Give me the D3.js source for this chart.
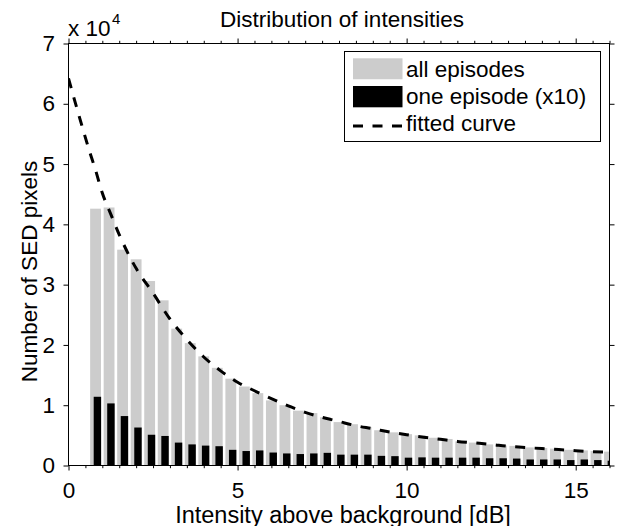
<!DOCTYPE html>
<html>
<head>
<meta charset="utf-8">
<script src="https://cdn.jsdelivr.net/npm/d3@7"></script>
<style>
body { margin: 0; background: #fff; }
svg { display: block; font-family: "Liberation Sans", Arial, sans-serif; }
</style>
</head>
<body>
<svg id="chart" width="628" height="526"></svg>
<script>
// bin centres [dB]
var binCenters = [0.8, 1.2, 1.6, 2.0, 2.4, 2.8, 3.2, 3.6, 4.0, 4.4,
                  4.8, 5.2, 5.6, 6.0, 6.4, 6.8, 7.2, 7.6, 8.0, 8.4,
                  8.8, 9.2, 9.6, 10.0, 10.4, 10.8, 11.2, 11.6, 12.0, 12.4,
                  12.8, 13.2, 13.6, 14.0, 14.4, 14.8, 15.2, 15.6, 16.0];
// counts in units of 1e4
var allEpisodes = [4.26, 4.28, 3.58, 3.42, 3.06, 2.74, 2.27, 2.03, 1.81, 1.62,
                   1.44, 1.31, 1.20, 1.08, 1.00, 0.91, 0.87, 0.80, 0.72, 0.685,
                   0.64, 0.585, 0.55, 0.52, 0.50, 0.46, 0.44, 0.40, 0.38, 0.35,
                   0.33, 0.325, 0.30, 0.29, 0.28, 0.26, 0.25, 0.24, 0.23];
// one episode, already multiplied by 10
var oneEpisode = [1.14, 1.03, 0.82, 0.63, 0.51, 0.49, 0.38, 0.35, 0.33, 0.32,
                  0.26, 0.24, 0.25, 0.215, 0.20, 0.19, 0.20, 0.21, 0.18, 0.18,
                  0.18, 0.16, 0.155, 0.13, 0.135, 0.13, 0.13, 0.13, 0.13, 0.12,
                  0.12, 0.115, 0.10, 0.10, 0.10, 0.09, 0.10, 0.09, 0.08];
// fitted curve
var fitX = [0, 0.2, 0.4, 0.6, 0.8, 1.0, 1.25, 1.5, 2.0, 2.5, 3.0, 3.5, 4.0, 4.5, 5.0,
            5.5, 6.0, 6.5, 7.0, 7.5, 8.0, 8.5, 9.0, 9.5, 10.0, 10.5, 11.0, 11.5,
            12.0, 12.5, 13.0, 13.5, 14.0, 14.5, 15.0, 15.5, 16.0];
var fitY = [6.42, 6.02, 5.63, 5.25, 4.90, 4.52, 4.17, 3.83, 3.27, 2.86, 2.43, 2.09, 1.80, 1.57, 1.38,
            1.24, 1.11, 0.99, 0.88, 0.80, 0.73, 0.66, 0.61, 0.555, 0.51, 0.47, 0.435, 0.40,
            0.375, 0.35, 0.32, 0.30, 0.28, 0.265, 0.245, 0.23, 0.22];
var xTicks = [0, 5, 10, 15];
var yTicks = [0, 1, 2, 3, 4, 5, 6, 7];
var legendLabels = ["all episodes", "one episode (x10)", "fitted curve"];

var FS = 22.5;

var svg = d3.select("#chart");
var margin = {top: 43.5, right: 18.5, bottom: 60.5, left: 68.5};
var width = 628 - margin.left - margin.right;
var height = 526 - margin.top - margin.bottom;
var g = svg.append("g")
           .attr("transform", "translate(" + margin.left + "," + margin.top + ")");

var x = d3.scaleLinear().domain([0, 16]).range([0, width]);
var y = d3.scaleLinear().domain([0, 7]).range([height, 0]);

g.append("clipPath").attr("id", "plot-clip")
 .append("rect").attr("width", width).attr("height", height);

var plot = g.append("g").attr("clip-path", "url(#plot-clip)");

plot.selectAll(".bar-all")
    .data(binCenters)
    .enter().append("rect")
    .attr("class", "bar-all")
    .attr("x", function (d) { return x(d - 0.16); })
    .attr("width", x(0.32) - x(0))
    .attr("y", function (d, i) { return y(allEpisodes[i]); })
    .attr("height", function (d, i) { return y(0) - y(allEpisodes[i]); })
    .attr("fill", "#cccccc");

plot.selectAll(".bar-one")
    .data(binCenters)
    .enter().append("rect")
    .attr("class", "bar-one")
    .attr("x", function (d) { return x(d - 0.055); })
    .attr("width", x(0.22) - x(0))
    .attr("y", function (d, i) { return y(oneEpisode[i]); })
    .attr("height", function (d, i) { return y(0) - y(oneEpisode[i]); })
    .attr("fill", "#000");

var fitLine = d3.line()
                .x(function (d) { return x(d); })
                .y(function (d, i) { return y(fitY[i]); })
                .curve(d3.curveMonotoneX);

plot.append("path")
    .attr("d", fitLine(fitX))
    .attr("fill", "none")
    .attr("stroke", "#000")
    .attr("stroke-width", 3)
    .attr("stroke-dasharray", "10,9.5");

// axes, ticks pointing outwards
function styleAxis(sel) {
    sel.select(".domain").remove();
    sel.selectAll("line").attr("stroke", "#000");
    sel.attr("font-size", FS).attr("font-family", null);
    sel.selectAll("text").attr("fill", "#000");
}

var minorX = d3.range(0, 16.01, 0.5).filter(function (d) { return d % 5 !== 0; });

g.append("g")
 .attr("transform", "translate(0," + height + ")")
 .call(d3.axisBottom(x).tickValues(xTicks).tickSize(5).tickPadding(11.5).tickFormat(d3.format("d")))
 .call(styleAxis);
g.append("g")
 .attr("transform", "translate(0," + height + ")")
 .call(d3.axisBottom(x).tickValues(minorX).tickSize(2.7).tickFormat(""))
 .call(styleAxis);
g.append("g")
 .call(d3.axisTop(x).tickValues(xTicks).tickSize(5).tickFormat(""))
 .call(styleAxis);
g.append("g")
 .call(d3.axisTop(x).tickValues(minorX).tickSize(2.7).tickFormat(""))
 .call(styleAxis);
g.append("g")
 .call(d3.axisLeft(y).tickValues(yTicks).tickSize(5).tickPadding(8.5).tickFormat(d3.format("d")))
 .call(styleAxis);
g.append("g")
 .attr("transform", "translate(" + width + ",0)")
 .call(d3.axisRight(y).tickValues(yTicks).tickSize(5).tickFormat(""))
 .call(styleAxis);

g.append("rect")
 .attr("width", width)
 .attr("height", height)
 .attr("fill", "none")
 .attr("stroke", "#000")
 .attr("stroke-width", 1);

function addText(px, py, str, anchor, size, rot) {
    return svg.append("text")
              .attr("transform", "translate(" + px + "," + py + ")" +
                    (rot ? " rotate(" + rot + ")" : ""))
              .attr("text-anchor", anchor)
              .attr("font-size", size)
              .attr("fill", "#000")
              .text(str);
}

// titles
addText(margin.left + width / 2 + 3, 26.5, "Distribution of intensities", "middle", FS);
addText(margin.left + width / 2 + 4, 522.5, "Intensity above background [dB]", "middle", 23.5);
addText(37, margin.top + height / 2 + 17, "Number of SED pixels", "middle", FS, -90);

// exponent label
addText(68, 36, "x 10", "start", FS);
addText(112, 23.5, "4", "start", 15);

// legend
var lg = svg.append("g");
lg.append("rect")
  .attr("x", 344.5).attr("y", 51.5)
  .attr("width", 256).attr("height", 90)
  .attr("fill", "#fff").attr("stroke", "#000").attr("stroke-width", 1);
lg.append("rect").attr("x", 353).attr("y", 58.3).attr("width", 49.5).attr("height", 21).attr("fill", "#cccccc");
lg.append("rect").attr("x", 353).attr("y", 86).attr("width", 49.5).attr("height", 21.3).attr("fill", "#000");
lg.append("line")
  .attr("x1", 353).attr("x2", 402.5).attr("y1", 126).attr("y2", 126)
  .attr("stroke", "#000").attr("stroke-width", 3).attr("stroke-dasharray", "10,9.5");
var legendY = [76.5, 103.8, 131.2];
legendLabels.forEach(function (s, i) {
    addText(406, legendY[i], s, "start", FS);
});
</script>
</body>
</html>
